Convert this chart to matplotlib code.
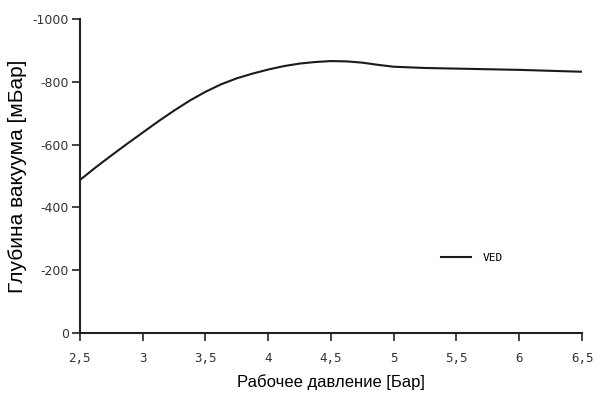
import numpy as np
import matplotlib.pyplot as plt

# Рабочее давление [Бар] и глубина вакуума [мБар]
pressure = [2.5, 2.625, 2.75, 2.875, 3.0, 3.125, 3.25, 3.375, 3.5, 3.625, 3.75, 3.875,
            4.0, 4.125, 4.25, 4.375, 4.5, 4.625, 4.75, 4.875, 5.0, 5.25, 5.5, 5.75,
            6.0, 6.25, 6.5]
vacuum = [-487, -527, -565, -602, -638, -674, -708, -740, -768, -792, -811, -826,
          -839, -850, -858, -863, -866, -865, -861, -854, -848, -844, -842, -840,
          -838, -835, -832]

xticks = [2.5, 3, 3.5, 4, 4.5, 5, 5.5, 6, 6.5]
xtick_labels = ['2,5', '3', '3,5', '4', '4,5', '5', '5,5', '6', '6,5']
yticks = [0, -200, -400, -600, -800, -1000]
ytick_labels = ['0', '-200', '-400', '-600', '-800', '-1000']

fig = plt.figure(figsize=(6, 4), dpi=100)
ax = fig.add_axes([0.133, 0.1675, 0.837, 0.785])

ax.plot(pressure, vacuum, color='#1a1a1a', linewidth=1.5, label='VED',
        solid_joinstyle='round')

ax.set_xlim(2.5, 6.5)
ax.set_ylim(0, -1000)

ax.set_xticks(xticks)
ax.set_xticklabels(xtick_labels, family='DejaVu Sans Mono', fontsize=9)
ax.set_yticks(yticks)
ax.set_yticklabels(ytick_labels, family='DejaVu Sans', fontsize=9)
ax.tick_params(axis='x', direction='out', length=6, width=1.2, pad=8, colors='#222222', labelcolor='#333333')
ax.tick_params(axis='y', direction='out', length=6, width=1.2, pad=2, colors='#222222', labelcolor='#333333')

for s in ['top', 'right']:
    ax.spines[s].set_visible(False)
for s in ['left', 'bottom']:
    ax.spines[s].set_linewidth(1.5)
    ax.spines[s].set_color('#222222')

ax.set_xlabel('Рабочее давление [Бар]', family='Liberation Sans', fontsize=12, labelpad=6)
ax.set_ylabel('Глубина вакуума [мБар]', family='Liberation Sans', fontsize=15, labelpad=4)

leg = ax.legend(frameon=False, loc='center left', bbox_to_anchor=(0.72, 0.24),
                prop={'family': 'DejaVu Sans Mono', 'size': 8},
                handlelength=2.7, handletextpad=1.0, borderpad=0, borderaxespad=0)

plt.savefig('out.png', dpi=100)
